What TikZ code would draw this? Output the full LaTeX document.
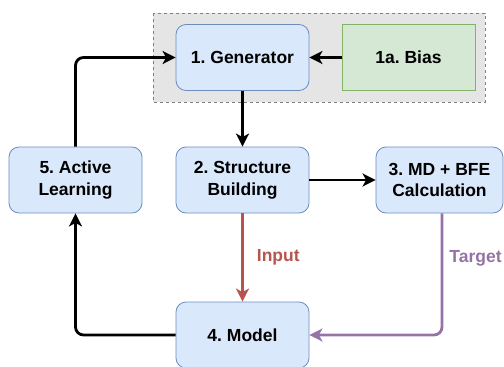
\documentclass[tikz,border=0pt]{standalone}
\usepackage{fontspec}
\setmainfont{Liberation Sans}
\usepackage{xcolor}
\usepackage{tikz}
\usetikzlibrary{arrows.meta}
\frenchspacing

\definecolor{boxfill}{HTML}{DAE8FC}
\definecolor{boxline}{HTML}{6C8EBF}
\definecolor{biasfill}{HTML}{D5E8D4}
\definecolor{biasline}{HTML}{82B366}
\definecolor{inputred}{HTML}{B85450}
\definecolor{targetpurple}{HTML}{9673A6}

\begin{document}
\begin{tikzpicture}[x=1pt, y=-1pt,
    font=\fontsize{17.5}{21.5}\selectfont\bfseries,
    stage/.style={draw=boxline, fill=boxfill, line width=0.8pt, rounded corners=10pt,
        minimum width=133pt, minimum height=66pt, align=center, inner sep=0pt},
    flow/.style={line width=2.8pt, rounded corners=8pt,
        -{Stealth[length=13pt, width=13pt, inset=3.5pt]}}]
    \useasboundingbox (0,0) rectangle (504,367);
    % Generator group
    \draw[dashed, gray, fill=gray!20, line width=0.6pt] (153,13) rectangle (485,102);
    \node[stage] (gen) at (242.5,57.5) {1. Generator};
    \node[stage, draw=biasline, fill=biasfill, rounded corners=0pt] (bias) at (408.5,57.5) {1a. Bias};
    % Pipeline
    \node[stage] (build) at (242.5,180) {2. Structure\\Building};
    \node[stage, minimum width=127pt] (md) at (439.5,180) {3. MD + BFE\\Calculation};
    \node[stage] (model) at (242.5,335) {4. Model};
    \node[stage] (active) at (75.5,180) {5. Active\\Learning};
    % Connections
    \draw[flow] (bias) -- (gen);
    \draw[flow] (gen) -- (build);
    \draw[flow] (build) -- (md);
    \draw[flow, inputred] (build) -- (model)
        node[midway, right, inner sep=0pt, xshift=13pt] (inlabel) {Input};
    \draw[flow, targetpurple] ([xshift=2.5pt]md.south) |- (model.east)
        node[pos=0.185, right, inner sep=0pt, xshift=6pt] (tglabel) {Target};
    \draw[flow] (model.west) -| (active.south);
    \draw[flow] (active.north) |- (gen.west);
\end{tikzpicture}
\end{document}
